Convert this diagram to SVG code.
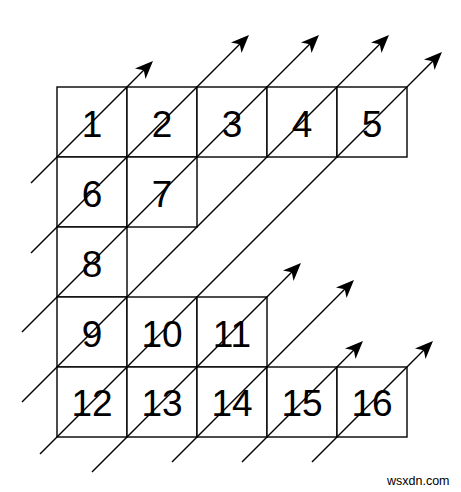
<svg xmlns="http://www.w3.org/2000/svg" width="461" height="492" viewBox="0 0 461 492">
<style>
.cell{fill:#fff;stroke:#000;stroke-width:1.4}
.num{font-family:"Liberation Sans",Arial,sans-serif;font-size:37px;fill:#000;text-anchor:middle}
.diag{stroke:#000;stroke-width:1.4;fill:none}
.arr{marker-end:url(#ah)}
.wm{font-family:"Liberation Sans",Arial,sans-serif;font-size:12.5px;fill:#000}
</style>
<defs>
<marker id="ah" viewBox="-20 -9 22 18" refX="-10" refY="0" markerWidth="22" markerHeight="18" markerUnits="userSpaceOnUse" orient="auto">
<path d="M0,0 L-18,-7.5 L-13,0 L-18,7.5 Z" fill="#000"/>
</marker>
</defs>
<g id="cells">
<g id="n1"><rect class="cell" x="57" y="87" width="70" height="70"/><text class="num" x="92" y="137">1</text></g>
<g id="n2"><rect class="cell" x="127" y="87" width="70" height="70"/><text class="num" x="162" y="137">2</text></g>
<g id="n3"><rect class="cell" x="197" y="87" width="70" height="70"/><text class="num" x="232" y="137">3</text></g>
<g id="n4"><rect class="cell" x="267" y="87" width="70" height="70"/><text class="num" x="302" y="137">4</text></g>
<g id="n5"><rect class="cell" x="337" y="87" width="70" height="70"/><text class="num" x="372" y="137">5</text></g>
<g id="n6"><rect class="cell" x="57" y="157" width="70" height="70"/><text class="num" x="92" y="207">6</text></g>
<g id="n7"><rect class="cell" x="127" y="157" width="70" height="70"/><text class="num" x="162" y="207">7</text></g>
<g id="n8"><rect class="cell" x="57" y="227" width="70" height="70"/><text class="num" x="92" y="277">8</text></g>
<g id="n9"><rect class="cell" x="57" y="297" width="70" height="70"/><text class="num" x="92" y="347">9</text></g>
<g id="n10"><rect class="cell" x="127" y="297" width="70" height="70"/><text class="num" x="162" y="347">10</text></g>
<g id="n11"><rect class="cell" x="197" y="297" width="70" height="70"/><text class="num" x="232" y="347">11</text></g>
<g id="n12"><rect class="cell" x="57" y="367" width="70" height="70"/><text class="num" x="92" y="416">12</text></g>
<g id="n13"><rect class="cell" x="127" y="367" width="70" height="70"/><text class="num" x="162" y="416">13</text></g>
<g id="n14"><rect class="cell" x="197" y="367" width="70" height="70"/><text class="num" x="232" y="416">14</text></g>
<g id="n15"><rect class="cell" x="267" y="367" width="70" height="70"/><text class="num" x="302" y="416">15</text></g>
<g id="n16"><rect class="cell" x="337" y="367" width="70" height="70"/><text class="num" x="372" y="416">16</text></g>
</g>
<g id="connectors">
<line class="diag arr" x1="31" y1="183" x2="145.9" y2="68.1"/>
<line class="diag arr" x1="31" y1="253" x2="241.9" y2="42.1"/>
<line class="diag arr" x1="22" y1="332" x2="311.9" y2="42.1"/>
<line class="diag arr" x1="22" y1="402" x2="381.9" y2="42.1"/>
<line class="diag arr" x1="40" y1="454" x2="434.9" y2="59.1"/>
<line class="diag arr" x1="92" y1="472" x2="293.9" y2="270.1"/>
<line class="diag arr" x1="172" y1="462" x2="346.9" y2="287.1"/>
<line class="diag arr" x1="242" y1="462" x2="355.9" y2="348.1"/>
<line class="diag arr" x1="312" y1="462" x2="425.9" y2="348.1"/>
</g>
<text class="wm" x="387" y="485">wsxdn.com</text>
</svg>
